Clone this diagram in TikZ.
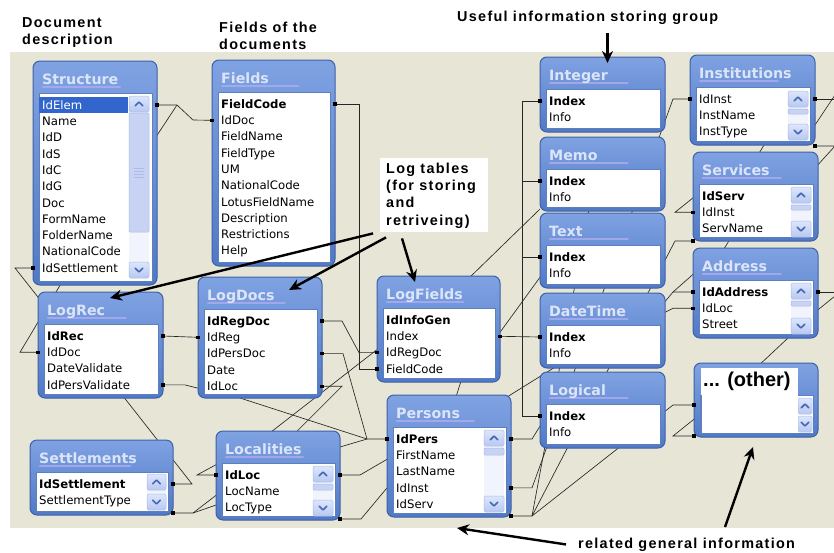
\documentclass[tikz,border=0pt]{standalone}
\usepackage{fontspec}
\usetikzlibrary{calc,arrows.meta}
\newfontfamily\rowfam{DejaVu Sans}
\newfontfamily\notefam{Liberation Sans}[LetterSpace=9]
\newfontfamily\othfam{Liberation Sans}
\definecolor{bgbeige}{HTML}{E6E5D6}
\definecolor{tblTop}{HTML}{7FA2E2}
\definecolor{tblBot}{HTML}{5079C6}
\definecolor{tblEdge}{HTML}{3F60A8}
\definecolor{ttlCol}{HTML}{DCE5F8}
\definecolor{swooshc}{HTML}{B3AEF2}
\definecolor{boxEdge}{HTML}{5F7FBC}
\definecolor{selBlue}{HTML}{3366CC}
\definecolor{sbTrack}{HTML}{F1F4FC}
\definecolor{btnTop}{HTML}{DDE6FB}
\definecolor{btnBot}{HTML}{B7C8F1}
\definecolor{btnEdge}{HTML}{A9BCEA}
\definecolor{chevC}{HTML}{4866B5}
\definecolor{thumbC}{HTML}{C8D3F3}
\pgfdeclarelayer{bgl}\pgfdeclarelayer{conn}\pgfdeclarelayer{front}
\pgfsetlayers{bgl,conn,main,front}
\newcommand{\rowfont}{\rowfam\fontsize{11.7}{14}\selectfont}
\newcommand{\ttlfont}{\rowfam\bfseries\fontsize{14.2}{16}\selectfont}
\newcommand{\notefont}{\notefam\bfseries\fontsize{14.4}{17.3}\selectfont}
\newcommand{\dbtable}[6]{%
  \node[tframe, anchor=north west, minimum width={(#4-#2)*1pt}, minimum height={(#5-#3)*1pt}] (#1) at (#2,#3) {};
  \draw[swoosh] ({#2+10},{#3+26}) -- ({#2+0.7*(#4-#2)},{#3+26});
  \node[ttitle] (#1-title) at ({#2+9},{#3+18.5}) {#6};
  \node[tbox, anchor=north west, minimum width={(#4-#2-11)*1pt}, minimum height={(#5-#3-36)*1pt}] (#1-box) at ({#2+6},{#3+32}) {};
}
\newcommand{\dbrows}[2]{%
  \foreach \rt [count=\ri] in {#2} {%
    \node[trow] (#1-\ri) at ($(#1-box.north west)+(3,{12+(\ri-1)*16.3})$) {\rt};
  }%
}
\newcommand{\sbtn}[5]{%
  \path[sbbtn] (#1,#2) rectangle (#3,#4);
  \draw[chev] ({(#1+#3)/2-3.8},{(#2+#4)/2+1.9*(#5)}) -- ({(#1+#3)/2},{(#2+#4)/2-1.9*(#5)}) -- ({(#1+#3)/2+3.8},{(#2+#4)/2+1.9*(#5)});
}
\newcommand{\scrl}[4]{%
  \fill[sbTrack] (#1,#2) rectangle (#3,#4);
  \sbtn{#1}{#2}{#3}{#2+16}{1}%
  \sbtn{#1}{#4-16}{#3}{#4}{-1}%
}
\newcommand{\thumbbar}[4]{\path[sbthumb] (#1,#2) rectangle (#3,#4);}
\newcommand{\rdot}[1]{\fill[black] #1 ++(-1.6,-1.6) rectangle ++(3.2,3.2);}
\begin{document}
\begin{tikzpicture}[x=1pt,y=-1pt,
  tframe/.style={rectangle, rounded corners=7pt, draw=tblEdge, line width=1pt, top color=tblTop, bottom color=tblBot, inner sep=0pt, outer sep=0pt},
  tbox/.style={rectangle, fill=white, draw=boxEdge, line width=0.8pt, inner sep=0pt, outer sep=0pt},
  ttitle/.style={anchor=west, inner sep=0pt, font=\ttlfont, text=ttlCol, text height=10.4pt, text depth=0pt},
  trow/.style={anchor=west, inner sep=0pt, font=\rowfont, text height=8.5pt, text depth=0pt},
  swoosh/.style={line width=2.8pt, line cap=round, draw=swooshc, opacity=0.75},
  rel/.style={line width=0.65pt, draw=black!85},
  note/.style={anchor=north west, inner sep=0pt, align=left, font=\notefont},
  bigarrow/.style={line width=2.4pt, -{Stealth[length=12pt,width=11pt]}},
  sbbtn/.style={top color=btnTop, bottom color=btnBot, draw=btnEdge, line width=0.5pt, rounded corners=1.5pt},
  chev/.style={draw=chevC, line width=1.6pt, line cap=round, line join=round},
  sbthumb/.style={fill=thumbC, draw=btnEdge, line width=0.5pt, rounded corners=1pt}]
\useasboundingbox (0,0) rectangle (834,552);
\begin{pgfonlayer}{bgl}
  \fill[white] (0,0) rectangle (834,552);
  \fill[bgbeige] (10,52) rectangle (834,528);
\end{pgfonlayer}

% ---------- tables ----------
\dbtable{str}{33}{61}{157}{285}{Structure}
\scrl{129}{96}{149}{278}
\thumbbar{129}{113}{149}{232}
\foreach \g in {168,171,174,177} \draw[btnEdge, line width=0.6pt] (134,\g) -- (144,\g);
\fill[selBlue] (39,97) rectangle (128,113);
\dbrows{str}{{\color{white}IdElem},Name,IdD,IdS,IdC,IdG,Doc,FormName,FolderName,NationalCode,IdSettlement}

\dbtable{fld}{212}{60}{335}{266}{Fields}
\dbrows{fld}{\textbf{FieldCode},IdDoc,FieldName,FieldType,UM,NationalCode,LotusFieldName,Description,Restrictions,Help}

\dbtable{int}{540}{57}{665}{132}{Integer}
\dbrows{int}{\textbf{Index},Info}
\dbtable{mem}{540}{137}{665}{211}{Memo}
\dbrows{mem}{\textbf{Index},Info}
\dbtable{txt}{540}{213}{665}{288}{Text}
\dbrows{txt}{\textbf{Index},Info}
\dbtable{dt}{540}{293}{665}{368}{DateTime}
\dbrows{dt}{\textbf{Index},Info}
\dbtable{lgc}{540}{372}{665}{448}{Logical}
\dbrows{lgc}{\textbf{Index},Info}

\dbtable{ins}{690}{55}{815}{145}{Institutions}
\scrl{788}{91}{808}{140}
\thumbbar{788}{109}{808}{114}
\dbrows{ins}{IdInst,InstName,InstType}
\dbtable{srv}{693}{152}{818}{241}{Services}
\scrl{791}{187}{811}{237}
\thumbbar{791}{205}{811}{210}
\dbrows{srv}{\textbf{IdServ},IdInst,ServName}
\dbtable{adr}{693}{248}{818}{338}{Address}
\scrl{791}{283}{811}{334}
\thumbbar{791}{301}{811}{306}
\dbrows{adr}{\textbf{IdAddress},IdLoc,Street}

\dbtable{oth}{694}{363}{818}{437}{}
\sbtn{798}{398}{812}{414}{1}
\sbtn{798}{416}{812}{432}{-1}
\fill[white] (701,368) rectangle (798,433);
\draw[boxEdge, line width=0.7pt] (701,395) -- (701,433);
\node[anchor=west, inner sep=0pt, font=\othfam\bfseries\fontsize{20}{22}\selectfont] (othtitle) at (703,381) {... (other)};
\coordinate (oth-a) at ($(oth.north west)+(0,42)$);
\coordinate (oth-b) at ($(oth.south west)+(0,-1)$);

\dbtable{lr}{38}{292}{163}{398}{LogRec}
\dbrows{lr}{\textbf{IdRec},IdDoc,DateValidate,IdPersValidate}
\dbtable{ld}{198}{277}{322}{398}{LogDocs}
\dbrows{ld}{\textbf{IdRegDoc},IdReg,IdPersDoc,Date,IdLoc}
\dbtable{lf}{377}{276}{500}{382}{LogFields}
\dbrows{lf}{\textbf{IdInfoGen},Index,IdRegDoc,FieldCode}
\dbtable{per}{387}{395}{511}{517}{Persons}
\scrl{484}{430}{504}{512}
\thumbbar{484}{448}{504}{455}
\dbrows{per}{\textbf{IdPers},FirstName,LastName,IdInst,IdServ}
\dbtable{loc}{216}{431}{340}{520}{Localities}
\scrl{313}{466}{333}{516}
\thumbbar{313}{484}{333}{490}
\dbrows{loc}{\textbf{IdLoc},LocName,LocType}
\dbtable{set}{30}{440}{173}{515}{Settlements}
\scrl{147}{474}{166}{510}
\dbrows{set}{\textbf{IdSettlement},SettlementType}

% ---------- relationship lines ----------
\begin{pgfonlayer}{conn}
\draw[rel] (str.east |- str-1) -- ++(20,0) coordinate (j1) -- ++(16,15) -- (fld.west |- fld-2);
\draw[rel] (j1) -- ++(-27,41);
\draw[rel] (fld.east |- fld-1) -- ++(24,0) |- (lf.west |- lf-4);
\draw[rel] (ld.east |- ld-1) -- ++(20,0) -- ($(lf.west |- lf-3)+(-18,0)$) -- (lf.west |- lf-3);
\coordinate (jP) at ($(per.west |- per-1)+(-20,0)$);
\draw[rel] (ld.east |- ld-3) -- ++(21,0) -- (jP) -- (per.west |- per-1);
\draw[rel] (ld.east |- ld-5) -- ++(20,0) -- ++(-52,52);
\draw[rel] ($(loc.north west)+(46,8)$) -- ($(lf.west |- lf-3)+(0,-3)$);
\draw[rel] ($(ld.south)+(-20,0)$) -- (jP);
\draw[rel] ($(loc.north east)+(0,16)$) -- (jP);
\draw[rel] (loc.east |- loc-1) -- ++(20,0) -- ($(per.west |- per-2)+(0,4)$);
\coordinate (dLocSE) at ($(loc.south east)+(0,-1)$);
\draw[rel] (dLocSE) -- ++(21,0) -- (per.west |- per-4);
\draw[rel] ($(lr.south)+(24,0)$) -- ($(set.east |- set-1)+(19,0)$) -- (set.east |- set-1);
\draw[rel] (loc.west |- loc-1) -- ++(-19,0) -- ++(24,-13);
\coordinate (dSetSE) at ($(set.south east)+(0,-2)$);
\draw[rel] (dSetSE) -- ++(20,0) coordinate (j13) -- ++(26,-20);
\draw[rel] (j13) -- ++(26,-9);
\draw[rel] (lr.east |- lr-1) -- (ld.west |- ld-2);
\draw[rel] (lr.east |- lr-4) -- ++(22,0) -- ($(ld.west |- ld-5)+(0,2)$);
\draw[rel] (str.west |- str-11) -- ++(-18,0) -- ++(30,38);
\draw[rel] (lr.west |- lr-2) -- ++(-18,0) -- ($(str.south west)+(29,-3)$);
\draw[rel] (lf.east |- lf-2) -- (dt.west |- dt-1);
\draw[rel] (int.west |- int-1) -- ++(-18,0) coordinate (bus) |- (lgc.west |- lgc-1);
\foreach \t in {mem,txt} \draw[rel] (\t.west |- \t-1) -- (bus |- \t-1);
\draw[rel] ($(lf.east |- lf-2)+(0,-4)$) -- ($(txt.south west)+(6,-19)$);
\draw[rel] ($(mem.south west)+(0,-2)$) -- ($(lf.north west)+(90,4)$);
\draw[rel] ($(per.north east)+(-4,2)$) -- ($(dt.south west)+(20,-4)$);
\draw[rel] (per.east |- per-1) -- ++(21,0) -- ++(10,-16);
\draw[rel] (per.east |- per-4) -- ++(21,0) -- ($(ins.west |- ins-1)+(-17,0)$) -- (ins.west |- ins-1);
\coordinate (dPerSE) at ($(per.south east)+(0,-1)$);
\draw[rel] (dPerSE) -- ++(21,0) coordinate (j24) -- ($(oth-a)+(-21,0)$) -- (oth-a);
\draw[rel] (j24) -- ($(srv.south west)+(-18,0)$) -- (srv.south west);
\draw[rel] (j24) -- ++(59,-317);
\draw[rel] (srv.west |- srv-2) -- ++(-18,0) -- ++(25,-20);
\draw[rel] ($(srv.north west)+(65,3)$) -- ($(ins.south west)+(77,-5)$);
\draw[rel] (ins.east |- ins-1) -- ++(20,0) coordinate (rA);
\draw[rel] ($(rA)+(0,-4)$) -- ++(-22,33);
\coordinate (dInsSE) at ($(ins.south east)+(0,1)$);
\draw[rel] (dInsSE) -- ++(20,0) -- ++(-20,22);
\draw[rel] ($(adr.north west)+(29,4)$) -- ($(srv.south west)+(39,-5)$);
\draw[rel] (adr.west |- adr-1) -- ++(-20,0) coordinate (j30) -- ++(-10,12);
\draw[rel] (j30) -- ++(25,-22);
\draw[rel] (adr.west |- adr-2) -- ++(-20,0) -- ++(-10,5);
\draw[rel] (adr.east |- adr-1) -- ++(20,0) coordinate (rB);
\draw[rel] ($(rB)+(-3,4)$) -- ++(-21,17);
\draw[rel] ($(adr.south east)+(-30,0)$) -- ++(-32,30);
\draw[rel] (oth-b) -- ++(-21,0) -- ++(25,-20);
\draw[rel] ($(lf.south west)+(85,-4)$) -- ($(per.north west)+(68,5)$);
\end{pgfonlayer}

% ---------- dots, notes, arrows ----------
\begin{pgfonlayer}{front}
\foreach \p in {(str.east |- str-1),(fld.west |- fld-2),(fld.east |- fld-1),(lf.west |- lf-4),
  (ld.east |- ld-1),(lf.west |- lf-3),(ld.east |- ld-3),(per.west |- per-1),(ld.east |- ld-5),
  (loc.east |- loc-1),(dLocSE),(set.east |- set-1),(loc.west |- loc-1),(dSetSE),
  (lr.east |- lr-1),(ld.west |- ld-2),(lr.east |- lr-4),(str.west |- str-11),(lr.west |- lr-2),
  (lf.east |- lf-2),(int.west |- int-1),(mem.west |- mem-1),(txt.west |- txt-1),(dt.west |- dt-1),
  (lgc.west |- lgc-1),(per.east |- per-1),(per.east |- per-4),(dPerSE),(ins.west |- ins-1),
  (oth-a),(oth-b),(srv.south west),(srv.west |- srv-2),(ins.east |- ins-1),(dInsSE),
  (adr.west |- adr-1),(adr.west |- adr-2),(adr.east |- adr-1)} {\rdot{\p}}

\node[note] (docdesc) at (22,17.5) {Document\\description};
\node[note] (fldnote) at (219,21.5) {Fields of the\\documents};
\node[note] (useful) at (457,10.5) {Useful information storing group};
\node[fill=white, inner sep=0pt, minimum width=108pt, minimum height=74pt, anchor=north west] (lognote) at (380,158) {};
\node[note] (logtext) at (386,162.5) {Log tables\\(for storing\\and\\retriveing)};
\node[note] (related) at (578,537.5) {related general information};

\draw[bigarrow] ($(lognote.south west)+(-7,1)$) -- ($(lr.north west)+(72,6)$);
\draw[bigarrow] ($(lognote.south west)+(6,5)$) -- ($(ld.north west)+(91,13)$);
\draw[bigarrow] ($(lognote.south west)+(22,6)$) -- ($(lf.north west)+(38,6)$);
\draw[bigarrow] ($(int.north)+(5,-24)$) -- ($(int.north)+(5,6)$);
\draw[bigarrow] ($(related.west)+(-12,0)$) -- ($(per.south west)+(70,11)$);
\draw[bigarrow] ($(oth.south)+(-31,90)$) -- ($(oth.south)+(-3,10)$);
\end{pgfonlayer}
\end{tikzpicture}
\end{document}
